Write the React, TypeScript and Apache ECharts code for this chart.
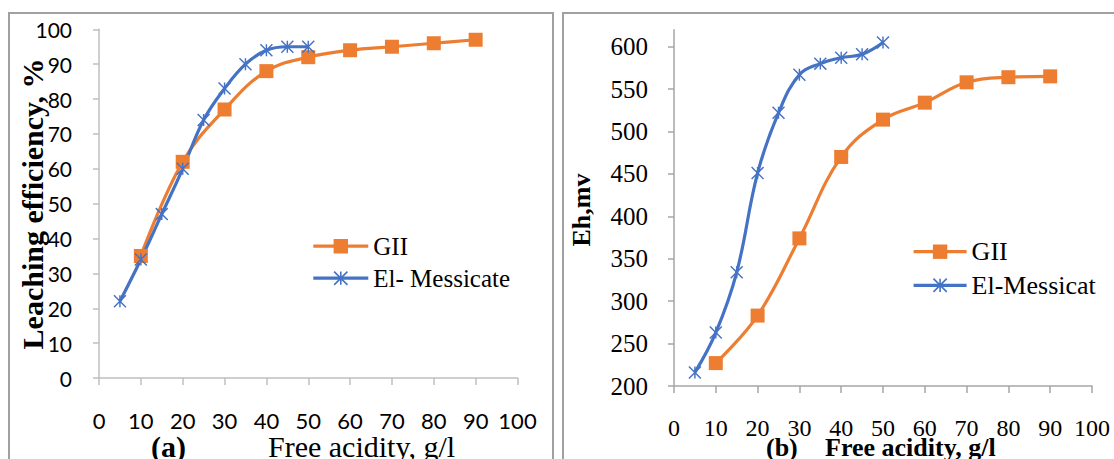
import React, { useEffect, useRef } from "react";
import * as echarts from "echarts";

// Panel (a): Leaching efficiency, %
const giiXA = [10, 20, 30, 40, 50, 60, 70, 80, 90];
const giiYA = [35, 62, 77, 88, 92, 94, 95, 96, 97];
const elXA = [5, 10, 15, 20, 25, 30, 35, 40, 45, 50];
const elYA = [22, 34, 47, 60, 74, 83, 90, 94, 95, 95];

// Panel (b): Eh, mv
const giiXB = [10, 20, 30, 40, 50, 60, 70, 80, 90];
const giiYB = [227, 283, 374, 470, 514, 534, 558, 564, 565];
const elXB = [5, 10, 15, 20, 25, 30, 35, 40, 45, 50];
const elYB = [216, 263, 334, 451, 522, 567, 580, 587, 591, 605];

const yTicksB = [200, 250, 300, 350, 400, 450, 500, 550, 600];

const seriesNamesA = ["GII", "El- Messicate"];
const seriesNamesB = ["GII", "El-Messicat"];

const ORANGE = "#ED7D31";
const BLUE = "#4472C4";

const STAR =
  "path://M-12,-100 L12,-100 L12,100 L-12,100 Z " +
  "M-91.5,-108.5 L108.5,91.5 L91.5,108.5 L-108.5,-91.5 Z " +
  "M-108.5,91.5 L91.5,-108.5 L108.5,-91.5 L-91.5,108.5 Z";

const zip = (xs: number[], ys: number[]) => xs.map((x, i) => [x, ys[i]]);

export default function App() {
  const ref = useRef<HTMLDivElement>(null);
  useEffect(() => {
    if (!ref.current) return;
    const chart = echarts.init(ref.current, undefined, { renderer: "svg" });
    const serifA = "Liberation Serif";
    const axisGrayA = "#bfbfbf";
    const axisGrayB = "#a6a6a6";
    chart.setOption({
      animation: false,
      backgroundColor: "#ffffff",
      grid: [
        { left: 99, top: 29.3, width: 418.5, height: 348.7 },
        { left: 674, top: 29.7, width: 418, height: 356.3 },
      ],
      xAxis: [
        {
          type: "value",
          gridIndex: 0,
          min: 0,
          max: 100,
          interval: 10,
          splitLine: { show: false },
          axisLine: { show: true, lineStyle: { color: axisGrayA, width: 1.5 } },
          axisTick: { show: true, length: 7, lineStyle: { color: axisGrayA, width: 1.5 } },
          axisLabel: { fontFamily: "Lato", fontSize: 22, color: "#000", margin: 31 },
        },
        {
          type: "value",
          gridIndex: 1,
          min: 0,
          max: 100,
          interval: 10,
          splitLine: { show: false },
          axisLine: { show: true, lineStyle: { color: axisGrayB, width: 1.5 } },
          axisTick: { show: true, length: 7, lineStyle: { color: axisGrayB, width: 1.5 } },
          axisLabel: { fontFamily: serifA, fontSize: 24, color: "#000", margin: 30 },
        },
      ],
      yAxis: [
        {
          type: "value",
          gridIndex: 0,
          min: 0,
          max: 100,
          interval: 10,
          splitLine: { show: false },
          axisLine: { show: true, lineStyle: { color: axisGrayA, width: 1.5 } },
          axisTick: { show: true, length: 6, lineStyle: { color: axisGrayA, width: 1.5 } },
          axisLabel: { fontFamily: "Lato", fontSize: 21, color: "#000", margin: 27 },
        },
        {
          type: "value",
          gridIndex: 1,
          min: 200,
          max: 620,
          interval: 50,
          splitLine: { show: false },
          axisLine: { show: true, lineStyle: { color: axisGrayB, width: 1.5 } },
          axisTick: {
            show: true,
            length: 6,
            customValues: yTicksB,
            lineStyle: { color: axisGrayB, width: 1.5 },
          },
          axisLabel: {
            fontFamily: serifA,
            fontSize: 25,
            color: "#000",
            margin: 26,
            customValues: yTicksB,
          },
        },
      ],
      legend: [
        {
          orient: "vertical",
          left: 306.7,
          top: 228.7,
          itemWidth: 55,
          itemHeight: 18,
          itemGap: 7,
          selectedMode: false,
          data: seriesNamesA,
          lineStyle: { width: 3.2 },
          textStyle: { fontFamily: serifA, fontSize: 25, color: "#000", lineHeight: 24 },
        },
        {
          orient: "vertical",
          left: 907,
          top: 233.7,
          itemWidth: 53,
          itemHeight: 18,
          itemGap: 7.6,
          selectedMode: false,
          data: seriesNamesB,
          lineStyle: { width: 3.2 },
          textStyle: { fontFamily: serifA, fontSize: 26, color: "#000", lineHeight: 24 },
        },
      ],
      series: [
        {
          name: seriesNamesA[0],
          type: "line",
          xAxisIndex: 0,
          yAxisIndex: 0,
          smooth: 0.4,
          data: zip(giiXA, giiYA),
          symbol: "rect",
          symbolSize: 14,
          lineStyle: { color: ORANGE, width: 3.2 },
          itemStyle: { color: ORANGE },
          clip: false,
        },
        {
          name: seriesNamesA[1],
          type: "line",
          xAxisIndex: 0,
          yAxisIndex: 0,
          smooth: 0.4,
          data: zip(elXA, elYA),
          symbol: STAR,
          symbolSize: 13,
          lineStyle: { color: BLUE, width: 3.2 },
          itemStyle: { color: BLUE },
          clip: false,
        },
        {
          name: seriesNamesB[0],
          type: "line",
          xAxisIndex: 1,
          yAxisIndex: 1,
          smooth: 0.4,
          data: zip(giiXB, giiYB),
          symbol: "rect",
          symbolSize: 14,
          lineStyle: { color: ORANGE, width: 3.2 },
          itemStyle: { color: ORANGE },
          clip: false,
        },
        {
          name: seriesNamesB[1],
          type: "line",
          xAxisIndex: 1,
          yAxisIndex: 1,
          smooth: 0.4,
          data: zip(elXB, elYB),
          symbol: STAR,
          symbolSize: 13,
          lineStyle: { color: BLUE, width: 3.2 },
          itemStyle: { color: BLUE },
          clip: false,
        },
      ],
      graphic: [
        {
          type: "rect",
          shape: { x: 9, y: 13, width: 544, height: 470 },
          style: { fill: "none", stroke: "#a0a0a0", lineWidth: 2 },
          silent: true,
          z: -1,
        },
        {
          type: "rect",
          shape: { x: 563, y: 13, width: 600, height: 470 },
          style: { fill: "none", stroke: "#a0a0a0", lineWidth: 2 },
          silent: true,
          z: -1,
        },
        {
          type: "text",
          x: 32,
          y: 204,
          rotation: Math.PI / 2,
          z: 10,
          style: {
            text: "Leaching efficiency, %",
            fontFamily: serifA,
            fontWeight: "bold",
            fontSize: 30,
            fill: "#000",
            align: "center",
            verticalAlign: "middle",
          },
        },
        {
          type: "text",
          x: 581,
          y: 210,
          rotation: Math.PI / 2,
          z: 10,
          style: {
            text: "Eh,mv",
            fontFamily: serifA,
            fontWeight: "bold",
            fontSize: 26,
            fill: "#000",
            align: "center",
            verticalAlign: "middle",
          },
        },
        {
          type: "text",
          x: 151,
          y: 446,
          style: {
            text: "(a)",
            fontFamily: serifA,
            fontWeight: "bold",
            fontSize: 30,
            fill: "#000",
            align: "left",
            verticalAlign: "middle",
          },
        },
        {
          type: "text",
          x: 268,
          y: 446,
          style: {
            text: "Free acidity, g/l",
            fontFamily: serifA,
            fontSize: 30,
            fill: "#000",
            align: "left",
            verticalAlign: "middle",
          },
        },
        {
          type: "text",
          x: 766,
          y: 447,
          style: {
            text: "(b)",
            fontFamily: serifA,
            fontWeight: "bold",
            fontSize: 26,
            fill: "#000",
            align: "left",
            verticalAlign: "middle",
          },
        },
        {
          type: "text",
          x: 825,
          y: 447,
          style: {
            text: "Free acidity, g/l",
            fontFamily: serifA,
            fontWeight: "bold",
            fontSize: 26,
            fill: "#000",
            align: "left",
            verticalAlign: "middle",
          },
        },
      ],
    });
    return () => chart.dispose();
  }, []);
  return (
    <div
      ref={ref}
      style={{ position: "absolute", left: 0, top: 0, width: 1114, height: 459 }}
    />
  );
}
